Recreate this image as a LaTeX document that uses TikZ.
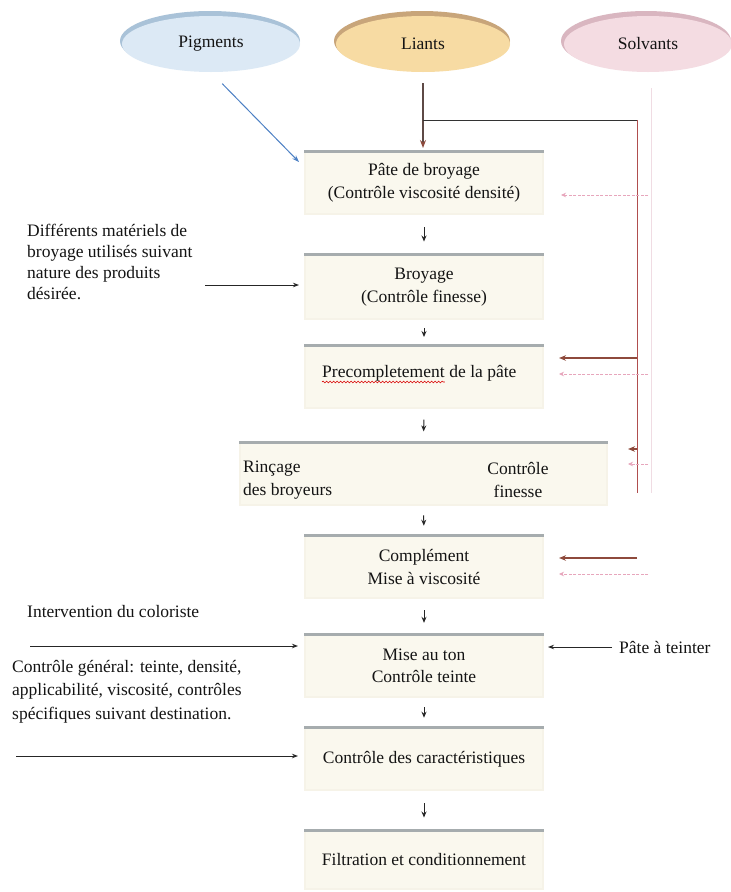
\documentclass[tikz,border=0pt]{standalone}
\usepackage{fontspec}
\setmainfont{Liberation Serif}
\usetikzlibrary{arrows.meta,calc,decorations.pathmorphing,shapes.geometric}
\definecolor{pigfill}{HTML}{DCE9F5}
\definecolor{pigrim}{HTML}{A9C2D8}
\definecolor{liafill}{HTML}{F7DBA3}
\definecolor{liarim}{HTML}{C8A57A}
\definecolor{solfill}{HTML}{F4DCE2}
\definecolor{solrim}{HTML}{D9B6C0}
\definecolor{boxfill}{HTML}{FAF8EE}
\definecolor{boxedge}{HTML}{F6F3E8}
\definecolor{rimgray}{HTML}{A6ACAE}
\definecolor{brownar}{HTML}{8E4A3C}
\definecolor{brownline}{HTML}{B04E4E}
\definecolor{pinkar}{HTML}{E7A6BC}
\definecolor{pinkline}{HTML}{F0DCE3}
\definecolor{bluear}{HTML}{4C80C4}
\definecolor{liantline}{HTML}{5E4A46}
\definecolor{txtcol}{HTML}{141414}
\begin{document}
\begin{tikzpicture}[x=1pt,y=-1pt,
  txt/.style={inner sep=0pt, text=txtcol, font=\fontsize{17.5}{22.5}\selectfont, align=left},
  ell/.style={ellipse, minimum height=56pt, inner sep=0pt, text=txtcol, font=\fontsize{17.5}{21}\selectfont},
  box/.style={rectangle, minimum width=238pt, minimum height=62pt, fill=boxfill, draw=boxedge, line width=2pt, inner sep=0pt, align=center, text=txtcol, font=\fontsize{17.5}{22.5}\selectfont},
  rim/.style={line width=3pt, draw=rimgray},
  flow/.style={-{Stealth[length=6pt,width=5pt]}, line width=1pt, black!85},
  blk/.style={-{Stealth[length=6pt,width=4.5pt]}, line width=1pt, black!85},
  brn/.style={-{Stealth[length=7pt,width=5.5pt]}, line width=1.4pt, brownar},
  pnk/.style={-{Stealth[length=5pt,width=4.5pt]}, line width=0.7pt, pinkar, dash pattern=on 3pt off 1.5pt},
]
\useasboundingbox (0,0) rectangle (731,892);
\fill[white] (0,0) rectangle (731,892);

% ellipses
\fill[pigrim] (210,41) ellipse [x radius=90, y radius=30];
\node[ell, fill=pigfill, minimum width=178pt] (pig) at (211,44) {Pigments};
\fill[liarim] (422,41) ellipse [x radius=88, y radius=30];
\node[ell, fill=liafill, minimum width=174pt] (lia) at (423,44) {Liants};
\fill[solrim] (646,41) ellipse [x radius=85, y radius=30];
\node[ell, fill=solfill, minimum width=168pt] (sol) at (648,44) {Solvants};

% boxes
\node[box] (b1) at (424,183) {Pâte de broyage\\(Contrôle viscosité densité)};
\node[box, minimum height=64pt] (b2) at (424,287) {Broyage\\(Contrôle finesse)};
\node[box] (b3) at (424,377) {};
\node[box, minimum width=367pt] (b4) at (423.5,474) {};
\node[box] (b5) at (424,567) {Complément\\Mise à viscosité};
\node[box] (b6) at (424,666) {Mise au ton\\Contrôle teinte};
\node[box] (b7) at (424,759) {Contrôle des caractéristiques};
\node[box, minimum height=58pt] (b8) at (424,860) {Filtration et conditionnement};
\foreach \n in {b1,b2,b3,b4,b5,b6,b7,b8}
  \draw[rim] (\n.north west) -- (\n.north east);

% texts inside b3 and b4
\node[txt, anchor=base west] (t3a) at (322,377) {Precompletement};
\node[txt, anchor=base west] (t3b) at (t3a.base east) {\ de la pâte};
\draw[red!85!black, line width=0.6pt, decorate, decoration={snake, amplitude=0.9pt, segment length=3.5pt}]
  ([yshift=-5pt]t3a.base west) -- ([yshift=-5pt]t3a.base east);
\node[txt, anchor=west] (t4a) at (243,480) {Rinçage\\des broyeurs};
\node[txt, align=center] (t4b) at (518,480) {Contrôle\\finesse};

% flow arrows between boxes
\foreach \a/\b in {b1/b2,b2/b3,b3/b4,b4/b5,b5/b6,b6/b7,b7/b8}
  \draw[flow] ($(\a.south)!0.32!(\b.north)$) -- ($(\a.south)!0.68!(\b.north)$);

% Pigments
\draw[-{Stealth[length=7pt,width=5pt]}, line width=1pt, bluear, shorten <=16pt]
  (pig.south) -- ($(b1.north west)+(-5,11)$);

% Liants and supply lines
\draw[-{Stealth[length=8pt,width=6pt,color=brownar]}, line width=1.1pt, liantline, shorten <=11pt, shorten >=3pt]
  (lia.south) -- (lia.south |- b1.north);
\coordinate (jn) at (423,120);
\coordinate (bt) at (637,120);
\coordinate (bb) at (637,493);
\coordinate (pv1) at (651,88);
\coordinate (pv2) at (651,493);
\draw[line width=1pt, black!80] (jn) -- (bt);
\draw[line width=0.9pt, brownline] (bt) -- (bb);
\draw[line width=0.8pt, pinkline] (pv1) -- (pv2);

\draw[brn, shorten >=15pt] (bt |- 0,358) -- (b3.east |- 0,358);
\draw[brn, shorten >=20pt] (bt |- 0,449) -- (b4.east |- 0,449);
\draw[brn, shorten >=15pt] (bt |- 0,558) -- (b5.east |- 0,558);
\draw[pnk, shorten <=3pt, shorten >=17pt] (pv1 |- 0,195) -- (b1.east |- 0,195);
\draw[pnk, shorten <=3pt, shorten >=15pt] (pv1 |- 0,374) -- (b3.east |- 0,374);
\draw[pnk, shorten <=3pt, shorten >=20pt] (pv1 |- 0,464) -- (b4.east |- 0,464);
\draw[pnk, shorten <=3pt, shorten >=15pt] (pv1 |- 0,574) -- (b5.east |- 0,574);

% left texts and arrows
\node[txt, anchor=north west, font=\fontsize{17.5}{21}\selectfont] (d1) at (27,224)
  {Différents matériels de\\broyage utilisés suivant\\nature des produits\\désirée.};
\coordinate (l2) at (205,285);
\draw[blk, shorten >=5pt] (l2) -- (l2 -| b2.west);

\node[txt, anchor=base west] (ic) at (27,617) {Intervention du coloriste};
\coordinate (l6) at (30,646);
\draw[blk, shorten >=6pt] (l6) -- (l6 -| b6.west);
\node[txt, anchor=north west, font=\fontsize{17.5}{23.5}\selectfont] (cg) at (12,660)
  {Contrôle général: teinte, densité,\\applicabilité, viscosité, contrôles\\spécifiques suivant destination.};
\coordinate (l7) at (16,756);
\draw[blk, shorten >=6pt] (l7) -- (l7 -| b7.west);

\node[txt, anchor=west] (pat) at (619,647) {Pâte à teinter};
\draw[blk, shorten <=7pt, shorten >=4pt] (pat.west) -- (pat.west -| b6.east);
\end{tikzpicture}
\end{document}
